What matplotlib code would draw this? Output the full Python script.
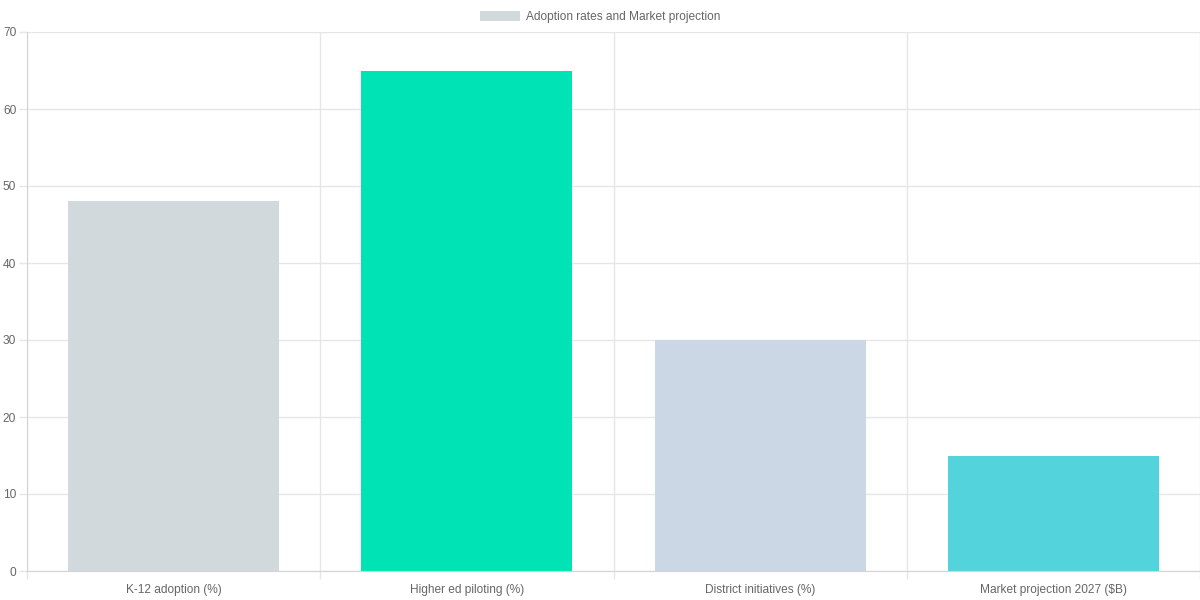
import matplotlib.pyplot as plt
from matplotlib.patches import Patch

plt.rcParams['font.family'] = ['Liberation Sans', 'DejaVu Sans']

categories = ["K-12 adoption (%)", "Higher ed piloting (%)",
              "District initiatives (%)", "Market projection 2027 ($B)"]
values = [48, 65, 30, 15]
colors = ["#d1d9dc", "#00e3b4", "#cbd7e4", "#53d3db"]
legend_label = "Adoption rates and Market projection"

fs = 8.6

fig = plt.figure(figsize=(12, 6), dpi=100)
ax = fig.add_axes([27 / 1200, 29 / 600, 1173 / 1200, 539 / 600])

x = list(range(len(categories)))
ax.bar(x, values, width=0.72, color=colors, zorder=2)

ax.set_xlim(-0.5, len(categories) - 0.5)
ax.set_ylim(0, 70)
ax.set_yticks(range(0, 71, 10))

ax.set_xticks(x)
ax.set_xticklabels(categories)
ax.set_xticks([i - 0.5 for i in range(len(categories) + 1)], minor=True)

grid_c = "#e6e6e6"
ax.grid(axis="y", color=grid_c, linewidth=1, zorder=0)
ax.grid(axis="x", which="minor", color=grid_c, linewidth=1, zorder=0)
ax.grid(axis="x", which="major", visible=False)

ax.tick_params(axis="y", length=5.8, width=1, color=grid_c, pad=2,
               labelsize=fs, labelcolor="#666666")
ax.tick_params(axis="x", which="major", length=0, pad=9.5,
               labelsize=fs, labelcolor="#666666")
ax.tick_params(axis="x", which="minor", length=5.8, width=1, color=grid_c)

for s in ["top", "right"]:
    ax.spines[s].set_visible(False)
for s in ["left", "bottom"]:
    ax.spines[s].set_color("#d4d4d4")

handle = Patch(facecolor=colors[0], edgecolor="none")
fig.legend([handle], [legend_label], loc="center", bbox_to_anchor=(0.5, 1 - 17 / 600),
           frameon=False, fontsize=fs, labelcolor="#666666",
           handlelength=3.35, handleheight=0.92, handletextpad=0.5)

fig.savefig("out.png", dpi=100, facecolor="white")
